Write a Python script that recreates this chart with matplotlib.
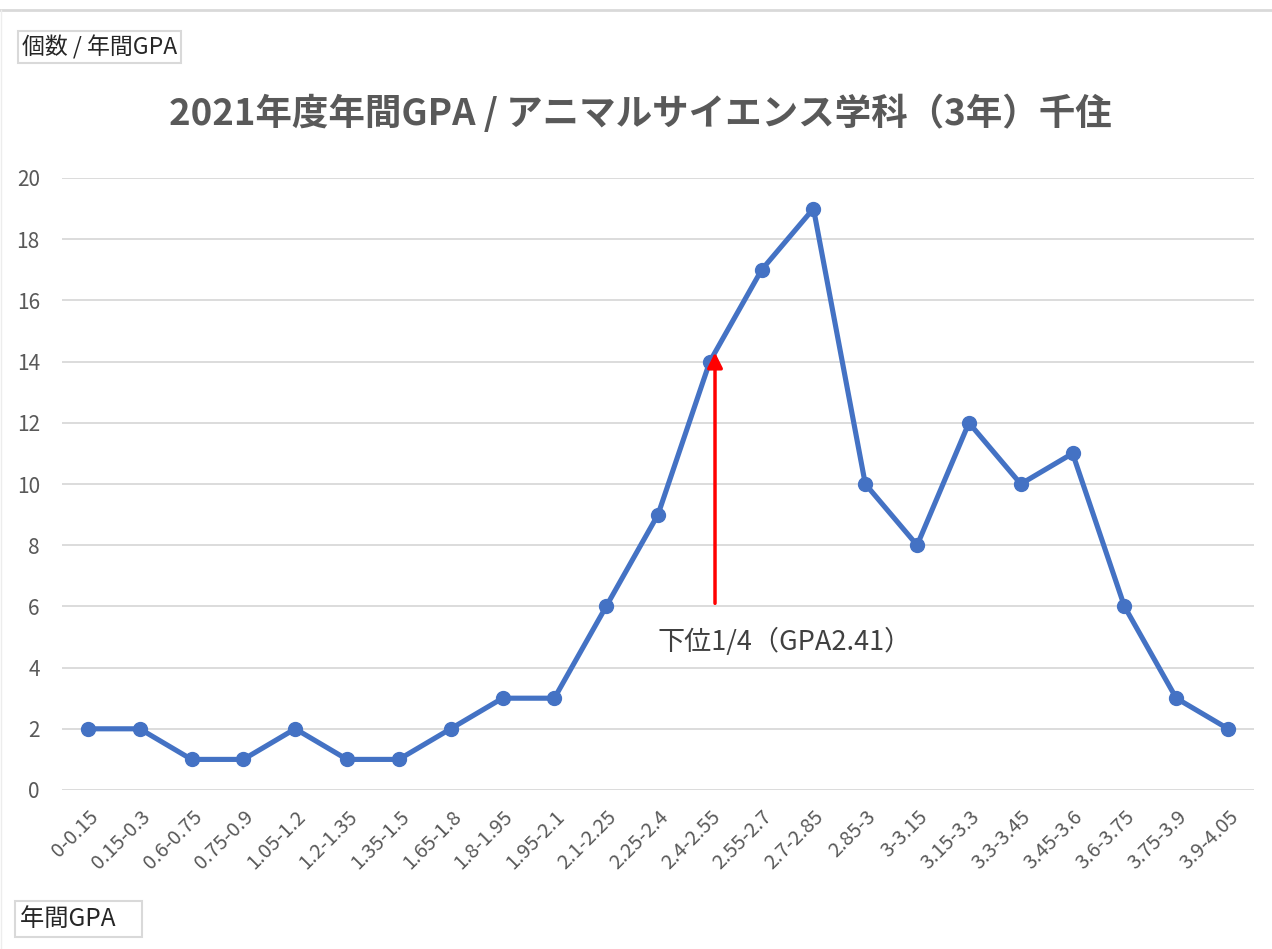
import matplotlib
matplotlib.use("Agg")
import matplotlib.pyplot as plt
from matplotlib.lines import Line2D

plt.rcParams['font.family'] = ['Noto Sans CJK JP', 'DejaVu Sans']

categories = ["0-0.15", "0.15-0.3", "0.6-0.75", "0.75-0.9", "1.05-1.2", "1.2-1.35",
              "1.35-1.5", "1.65-1.8", "1.8-1.95", "1.95-2.1", "2.1-2.25", "2.25-2.4",
              "2.4-2.55", "2.55-2.7", "2.7-2.85", "2.85-3", "3-3.15", "3.15-3.3",
              "3.3-3.45", "3.45-3.6", "3.6-3.75", "3.75-3.9", "3.9-4.05"]
counts = [2, 2, 1, 1, 2, 1, 1, 2, 3, 3, 6, 9, 14, 17, 19, 10, 8, 12, 10, 11, 6, 3, 2]
yticks = [0, 2, 4, 6, 8, 10, 12, 14, 16, 18, 20]

title = "2021年度年間GPA / アニマルサイエンス学科（3年）千住"
annot_text = "下位1/4（GPA2.41）"
annot_x = 12.1
annot_tip = 14.3
annot_base = 6.1

W, H = 1272, 949
fig = plt.figure(figsize=(W / 100, H / 100), dpi=100)
ax = fig.add_axes([62 / W, 1 - 790 / H, (1254 - 62) / W, (790 - 178) / H])

x = list(range(len(categories)))
ax.plot(x, counts, color='#4472C4', linewidth=3.7, marker='o', markersize=10,
        solid_joinstyle='round', zorder=3)

ax.set_xlim(-0.5, len(categories) - 0.5)
ax.set_ylim(0, 20)
ax.set_yticks(yticks)
ax.set_xticks(x)
ax.set_xticklabels(categories, rotation=45, ha='right', rotation_mode='anchor',
                   fontsize=14.5, color='#595959')
ax.tick_params(axis='x', length=0, pad=12)
ax.tick_params(axis='y', length=0, pad=16, labelsize=15, labelcolor='#595959')

ax.grid(axis='y', color='#D9D9D9', linewidth=1.3)
ax.set_axisbelow(True)
for s in ax.spines.values():
    s.set_visible(False)

ax.annotate('', xy=(annot_x, annot_tip), xytext=(annot_x, annot_base),
            arrowprops=dict(arrowstyle='-|>,head_length=0.9,head_width=0.45',
                            color='#FF0000', lw=2.5, shrinkA=0, shrinkB=0),
            zorder=4)
ax.text(annot_x + 1.35, 4.85, annot_text, ha='center', va='center',
        fontsize=19.5, color='#404040')

fig.text(640 / W, 1 - 114 / H, title, ha='center', va='center',
         fontsize=26.3, fontweight='bold', color='#595959')

fig.text(22 / W, 1 - 47 / H, "個数 / 年間GPA", ha='left', va='center', fontsize=16.5,
         color='#262626',
         bbox=dict(boxstyle='square,pad=0.18', facecolor='white', edgecolor='#D9D9D9', lw=1.5))
fig.text(20 / W, 1 - 919 / H, "年間GPA    ", ha='left', va='center', fontsize=17.5,
         color='#262626',
         bbox=dict(boxstyle='square,pad=0.2', facecolor='white', edgecolor='#D9D9D9', lw=1.5))

fig.add_artist(Line2D([0, 1], [1 - 10 / H, 1 - 10 / H], transform=fig.transFigure,
                      color='#D9D9D9', lw=2))
fig.add_artist(Line2D([1 / W, 1 / W], [0, 1 - 10 / H], transform=fig.transFigure,
                      color='#EDEDED', lw=1))

fig.savefig('out.png', dpi=100)
